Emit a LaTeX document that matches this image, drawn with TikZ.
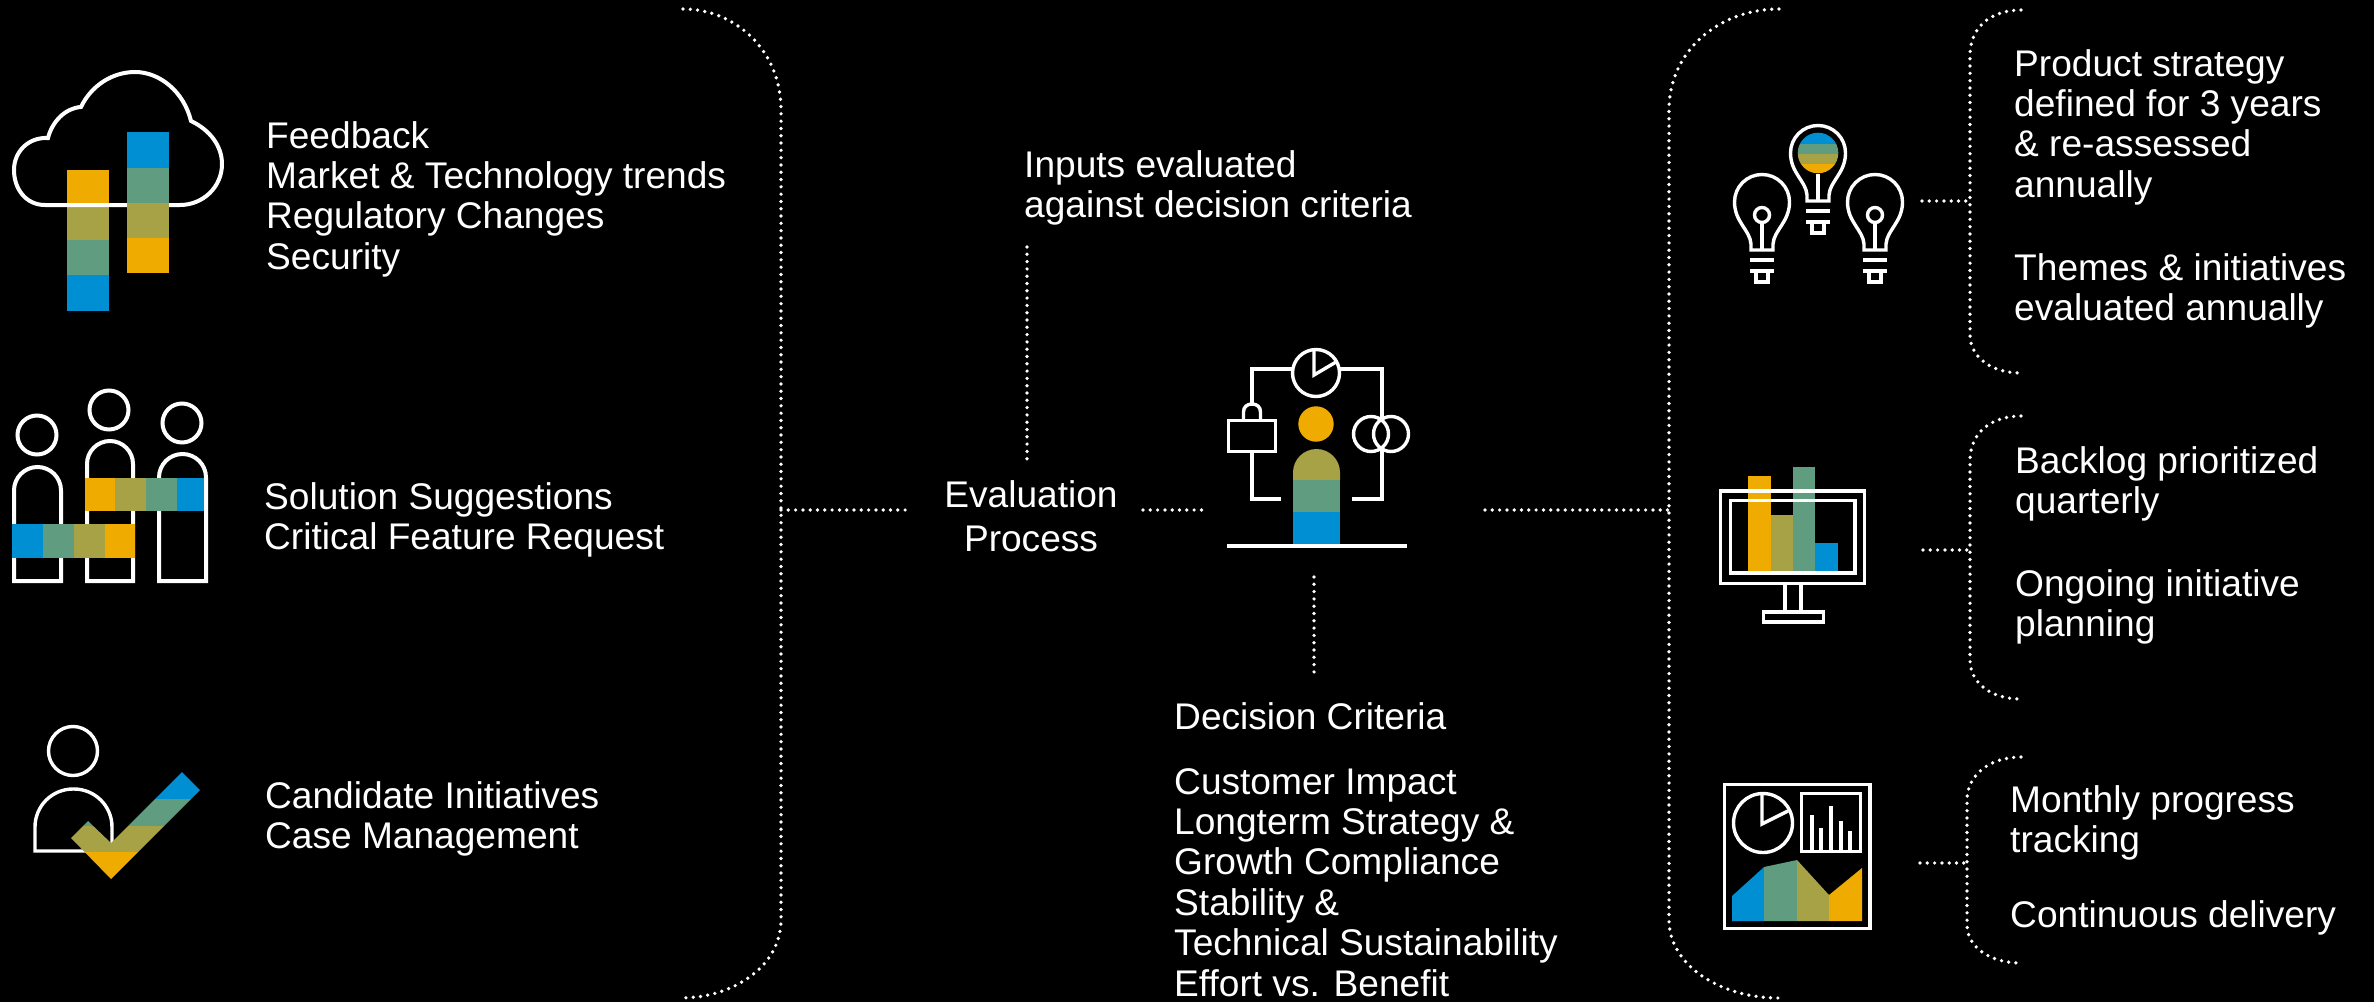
\documentclass[tikz,border=0pt]{standalone}
\usepackage{fontspec}
\setmainfont{Liberation Sans}
\definecolor{sorange}{HTML}{F0AB00}
\definecolor{solive}{HTML}{A7A245}
\definecolor{sgreen}{HTML}{5F9C80}
\definecolor{sblue}{HTML}{008FD3}
\tikzset{
  txt/.style={text=white,inner sep=0pt,align=left,anchor=north west,font=\fontsize{37.1}{40.4}\selectfont},
  ctxt/.style={txt,align=center,anchor=north,font=\fontsize{37.1}{44}\selectfont},
  dots/.style={white,line width=3.7pt,line cap=round,dash pattern=on 0pt off 7.3pt},
  ln/.style={white,line width=4pt},
  lnt/.style={white,line width=3.4pt},
  arch/.style={rounded corners=#1},
}
\newcommand{\bulbshape}[2]{%
 \begin{scope}[shift={(#1,#2)}]
  \draw[lnt] (-11,48) -- (-11,42) .. controls (-12,28) and (-27.5,20) .. (-27.5,0) .. controls (-27.5,-15.2) and (-15.2,-27.5) .. (0,-27.5) .. controls (15.2,-27.5) and (27.5,-15.2) .. (27.5,0) .. controls (27.5,20) and (12,28) .. (11,42) -- (11,48) -- cycle;
  \draw[lnt] (-12,58) -- (12,58);
  \draw[lnt] (-12,69) -- (12,69);
  \draw[lnt] (-6,69) -- (-6,80) -- (6,80) -- (6,69);
 \end{scope}}
\newcommand{\filament}[2]{%
 \begin{scope}[shift={(#1,#2)}]
  \draw[lnt] (0,13) circle (7.5);
  \draw[lnt] (0,21) -- (0,48);
 \end{scope}}
\begin{document}
\begin{tikzpicture}[x=1pt,y=-1pt]
\useasboundingbox (0,0) rectangle (2374,1001);
\fill[black] (-3,-3) rectangle (2377,1004);

% ---- cloud icon
\fill[sorange] (67,170) rectangle (109,206);
\fill[solive] (67,206) rectangle (109,240);
\fill[sgreen] (67,240) rectangle (109,275);
\fill[sblue] (67,275) rectangle (109,311);
\draw[ln] (45,205) .. controls (26,205) and (14,189) .. (14,170) .. controls (14,152) and (28,137) .. (48,138) .. controls (52,122) and (65,108) .. (81,107) .. controls (91,86) and (112,72) .. (135,72) .. controls (160,72) and (184,92) .. (191,121) .. controls (210,130) and (222,146) .. (222,164) .. controls (222,187) and (203,205) .. (180,205) -- cycle;
\fill[sblue] (127,132) rectangle (169,168);
\fill[sgreen] (127,168) rectangle (169,203);
\fill[solive] (127,203) rectangle (169,238);
\fill[sorange] (127,238) rectangle (169,273);

% ---- people icon
\draw[ln] (37,435) circle (19.5);
\draw[ln] (14,581) [arch=23.5pt] -- (14,467) -- (61,467) [sharp corners] -- (61,581) -- cycle;
\draw[ln] (109,410) circle (19.5);
\draw[ln] (87,581) [arch=23pt] -- (87,441) -- (133,441) [sharp corners] -- (133,581) -- cycle;
\draw[ln] (182,423) circle (19.5);
\draw[ln] (159,581) [arch=23.5pt] -- (159,454) -- (206,454) [sharp corners] -- (206,581) -- cycle;
\fill[sorange] (85,478) rectangle (115,511);
\fill[solive] (115,478) rectangle (146,511);
\fill[sgreen] (146,478) rectangle (177,511);
\fill[sblue] (177,478) rectangle (204,511);
\fill[sblue] (12,524) rectangle (43,558);
\fill[sgreen] (43,524) rectangle (74,558);
\fill[solive] (74,524) rectangle (105,558);
\fill[sorange] (105,524) rectangle (135,558);

% ---- check icon
\draw[lnt] (73,751) circle (24.5);
\draw[lnt] (112,843) -- (112,851) (90,851) -- (35,851) [arch=38pt] -- (35,789) -- (112,789) [sharp corners] -- (112,845);
\begin{scope}
 \clip (182,772) -- (200,790) -- (111,879) -- (71,838) -- (88,821) -- (111,843) -- cycle;
 \fill[sblue] (60,765) rectangle (205,799);
 \fill[sgreen] (60,799) rectangle (205,826);
 \fill[solive] (60,826) rectangle (205,852);
 \fill[sorange] (60,852) rectangle (205,885);
\end{scope}

% ---- evaluation icon
\draw[lnt] (1316,373) circle (23.5);
\draw[lnt] (1314,350) -- (1314,375) -- (1336,362);
\draw[lnt] (1293,369) -- (1252,369) -- (1252,404);
\draw[lnt] (1243.5,420) -- (1243.5,412) .. controls (1243.5,407) and (1247,404) .. (1252,404) .. controls (1257,404) and (1260.5,407) .. (1260.5,412) -- (1260.5,420);
\draw[lnt] (1228.5,420.5) rectangle (1275.5,451.5);
\draw[lnt] (1252,452) -- (1252,499) -- (1281,499);
\draw[lnt] (1340,369) -- (1382,369) -- (1382,420);
\draw[lnt] (1382,448) -- (1382,499) -- (1352,499);
\draw[lnt] (1371,434) circle (17.5);
\draw[lnt] (1391,434) circle (17.5);
\fill[sorange] (1316,424) circle (17.7);
\fill[solive] (1293,480) [arch=23.5pt] -- (1293,449) -- (1340,449) [sharp corners] -- (1340,480) -- cycle;
\fill[sgreen] (1293,480) rectangle (1340,512);
\fill[sblue] (1293,512) rectangle (1340,545);
\draw[lnt] (1227,546) -- (1407,546);

% ---- bulbs
\bulbshape{1762}{202}\filament{1762}{202}
\bulbshape{1875}{202}\filament{1875}{202}
\bulbshape{1818}{153}
\draw[lnt] (1818,174) -- (1818,201);
\begin{scope}
 \clip (1818,153) circle (20.3);
 \fill[sblue] (1795,130) rectangle (1841,144);
 \fill[sgreen] (1795,144) rectangle (1841,154);
 \fill[solive] (1795,154) rectangle (1841,164);
 \fill[sorange] (1795,164) rectangle (1841,176);
\end{scope}

% ---- monitor
\fill[sorange] (1748,476) rectangle (1771,573);
\fill[solive] (1771,515) rectangle (1793,573);
\fill[sgreen] (1793,467) rectangle (1815,573);
\fill[sblue] (1815,543) rectangle (1838,573);
\draw[lnt] (1720.5,491) rectangle (1864.5,583.5);
\draw[lnt] (1730.5,500.5) rectangle (1855,573);
\draw[lnt] (1785,584) -- (1785,612);
\draw[lnt] (1801,584) -- (1801,612);
\draw[lnt] (1763.5,612) rectangle (1823.5,622);

% ---- dashboard
\draw[lnt] (1724.5,784.5) rectangle (1870,928.5);
\draw[lnt] (1763,823) circle (29.5);
\draw[lnt] (1762,794) -- (1762,824) -- (1788,811);
\draw[lnt] (1801.5,793.5) rectangle (1860.5,851.5);
\draw[lnt] (1812,851) -- (1812,815);
\draw[lnt] (1821,851) -- (1821,828);
\draw[lnt] (1831,851) -- (1831,806);
\draw[lnt] (1841,851) -- (1841,821);
\draw[lnt] (1850,851) -- (1850,831);
\fill[sblue] (1732,921) -- (1732,896) -- (1764,867) -- (1764,921) -- cycle;
\fill[sgreen] (1764,921) -- (1764,867) -- (1797,860) -- (1797,921) -- cycle;
\fill[solive] (1797,921) -- (1797,860) -- (1829,895) -- (1829,921) -- cycle;
\fill[sorange] (1829,921) -- (1829,895) -- (1862,868) -- (1862,921) -- cycle;

% ---- text
\node[txt] (tfeed) at (266,121) {Feedback\\Market \& Technology trends\\Regulatory Changes\\Security};
\node[txt] (tsol) at (264,482) {Solution Suggestions\\Critical Feature Request};
\node[txt] (tcand) at (265,781) {Candidate Initiatives\\Case Management};
\node[txt] (tinp) at (1024,150) {Inputs evaluated\\against decision criteria};
\node[ctxt] (teval) at (1031,480) {Evaluation\\Process};
\node[txt] (tdec) at (1174,702) {Decision Criteria\\[24.7pt]Customer Impact\\Longterm Strategy \&\\Growth Compliance\\Stability \&\\Technical Sustainability\\Effort vs. Benefit};
\node[txt] (tprod) at (2014,49) {Product strategy\\defined for 3 years\\\& re-assessed\\annually\\[42.5pt]Themes \& initiatives\\evaluated annually};
\node[txt] (tback) at (2015,446) {Backlog prioritized\\quarterly\\[42.5pt]Ongoing initiative\\planning};
\node[txt] (tmon) at (2010,785) {Monthly progress\\tracking\\[34.5pt]Continuous delivery};

% ---- brackets
\coordinate (blT) at (683,9);
\coordinate (blM) at (781,510);
\coordinate (blB) at (680,998);
\draw[dots] (blT) .. controls (735,9) and (781,50) .. (781,110) -- (781,920) .. controls (781,965) and (735,998) .. (blB);
\coordinate (brT) at (1779,9);
\coordinate (brM) at (1669,510);
\coordinate (brB) at (1779,998);
\draw[dots] (brT) .. controls (1720,9) and (1669,50) .. (1669,110) -- (1669,920) .. controls (1669,965) and (1720,998) .. (brB);
\coordinate (s1T) at (2021,10);
\coordinate (s1M) at (1970,201);
\coordinate (s1B) at (2021,373);
\draw[dots] (s1T) .. controls (1990,10) and (1970,28) .. (1970,55) -- (1970,335) .. controls (1970,356) and (1990,373) .. (s1B);
\coordinate (s2T) at (2021,416);
\coordinate (s2M) at (1970,550);
\coordinate (s2B) at (2021,699);
\draw[dots] (s2T) .. controls (1990,416) and (1970,434) .. (1970,460) -- (1970,660) .. controls (1970,682) and (1990,699) .. (s2B);
\coordinate (s3T) at (2021,757);
\coordinate (s3M) at (1967,863);
\coordinate (s3B) at (2021,963);
\draw[dots] (s3T) .. controls (1990,757) and (1967,775) .. (1967,800) -- (1967,925) .. controls (1967,947) and (1990,963) .. (s3B);

% ---- connectors
\coordinate (evW) at (908,510);
\coordinate (evE) at (1143,510);
\coordinate (icW) at (1204,510);
\coordinate (icE) at (1485,510);
\coordinate (inB) at (1027,247);
\coordinate (inE) at (1027,459);
\coordinate (dcT) at (1314,577);
\coordinate (dcB) at (1314,672);
\coordinate (bulbE) at (1922,201);
\coordinate (monE) at (1923,550);
\coordinate (dashE) at (1920,863);
\draw[dots] (blM) -- (evW);
\draw[dots] (evE) -- (icW);
\draw[dots] (icE) -- (brM);
\draw[dots] (inB) -- (inE);
\draw[dots] (dcT) -- (dcB);
\draw[dots] (bulbE) -- (s1M);
\draw[dots] (monE) -- (s2M);
\draw[dots] (dashE) -- (s3M);
\end{tikzpicture}
\end{document}
